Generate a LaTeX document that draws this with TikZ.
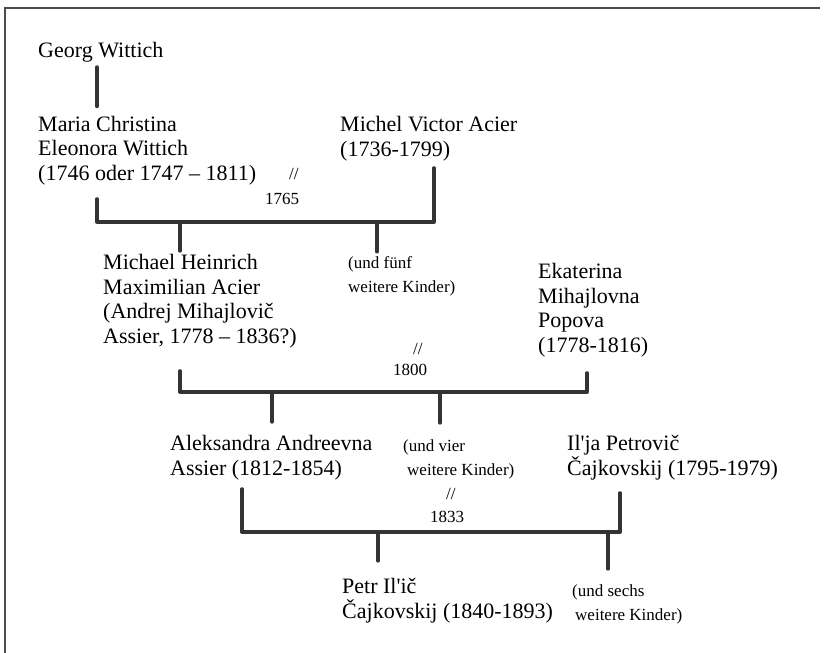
\documentclass[tikz,border=0pt]{standalone}
\usepackage{fontspec}
\setmainfont{Liberation Serif}

\begin{document}
\begin{tikzpicture}[x=1pt,y=-1pt,
    person/.style={anchor=base west,inner sep=0pt,align=left,font={\fontsize{22}{24.5}\selectfont}},
    note/.style={anchor=base west,inner sep=0pt,align=left,font={\fontsize{17}{24}\selectfont}},
    kin/.style={line width=3.3pt,black!80,line cap=round,line join=round}]
    \useasboundingbox (0,0) rectangle (831,653);
    % Draw the frame
    \draw[black!70,line width=1.2pt] (5,653) -- (5,8) -- (820,8);
    % Place the persons (base = last line)
    \node[person] (georg) at (38,57) {Georg Wittich};
    \node[person] (maria) at (38,180) {Maria Christina\\Eleonora Wittich\\(1746 oder 1747 – 1811)};
    \node[person] (acier) at (340,156) {Michel Victor Acier\\(1736-1799)};
    \node[person] (michael) at (103,343) {Michael Heinrich\\Maximilian Acier\\(Andrej Mihajlovič\\Assier, 1778 – 1836?)};
    \node[person] (ekaterina) at (538,352) {Ekaterina\\Mihajlovna\\Popova\\(1778-1816)};
    \node[person] (aleksandra) at (170,475) {Aleksandra Andreevna\\Assier (1812-1854)};
    \node[person] (ilja) at (567,475) {Il\textquotesingle ja Petrovič\\Čajkovskij (1795-1979)};
    \node[person] (petr) at (342,618) {Petr Il\textquotesingle ič\\Čajkovskij (1840-1893)};
    % Place the siblings and the weddings
    \node[note] (fuenf) at (348,292) {(und fünf\\weitere Kinder)};
    \node[note] (vier) at (403,475) {(und vier\\\hspace*{4pt}weitere Kinder)};
    \node[note] (sechs) at (572,620) {(und sechs\\\hspace*{3pt}weitere Kinder)};
    \node[note] (wed1) at (289,179) {//};
    \node[note] (year1) at (265,204) {1765};
    \node[note] (wed2) at (413,354) {//};
    \node[note] (year2) at (393,375) {1800};
    \node[note] (wed3) at (446,499) {//};
    \node[note] (year3) at (430,522) {1833};
    % Corners of the bars and the drops
    \coordinate (b1w) at (97,222);
    \coordinate (b1e) at (434,222);
    \coordinate (d1a) at (180,222);
    \coordinate (d1b) at (377,222);
    \coordinate (b2w) at (180,392);
    \coordinate (b2e) at (587,392);
    \coordinate (d2a) at (272,392);
    \coordinate (d2b) at (440,392);
    \coordinate (b3w) at (242,532);
    \coordinate (b3e) at (620,532);
    \coordinate (d3a) at (378,532);
    \coordinate (d3b) at (608,532);
    % Draw the lines
    \draw[kin,shorten <=5pt,shorten >=9pt] (georg.south -| b1w) -- (maria.north -| b1w);
    \draw[kin,shorten <=14pt,shorten >=7pt] (maria.south -| b1w) -- (b1w) -- (b1e) -- (acier.south -| b1e);
    \draw[kin,shorten >=3pt] (d1a) -- (michael.north -| d1a);
    \draw[kin,shorten >=4pt] (d1b) -- (fuenf.north -| d1b);
    \draw[kin,shorten <=23pt,shorten >=16pt] (michael.south -| b2w) -- (b2w) -- (b2e) -- (ekaterina.south -| b2e);
    \draw[kin,shorten >=13pt] (d2a) -- (aleksandra.north -| d2a);
    \draw[kin,shorten >=16pt] (d2b) -- (vier.north -| d2b);
    \draw[kin,shorten <=9pt,shorten >=13pt] (aleksandra.south -| b3w) -- (b3w) -- (b3e) -- (ilja.south -| b3e);
    \draw[kin,shorten >=17pt] (d3a) -- (petr.north -| d3a);
    \draw[kin,shorten >=15pt] (d3b) -- (sechs.north -| d3b);
\end{tikzpicture}
\end{document}
